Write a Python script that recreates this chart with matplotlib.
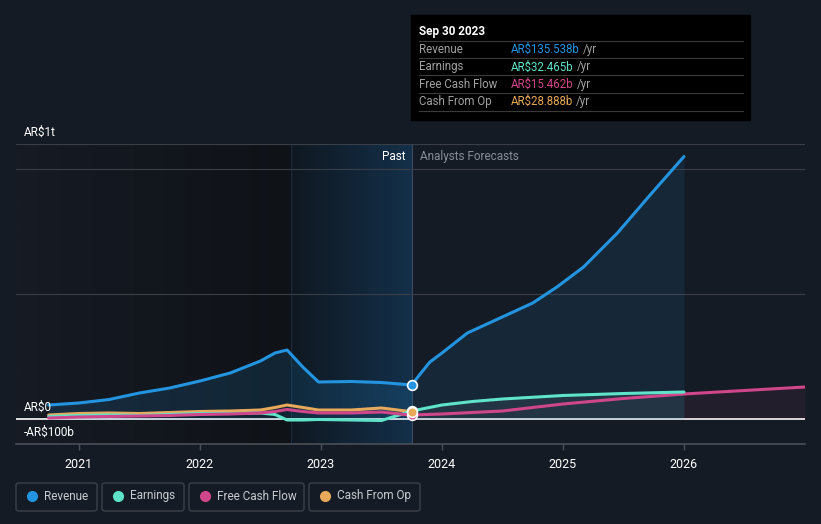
import numpy as np
import matplotlib
matplotlib.use("Agg")
import matplotlib.pyplot as plt
from matplotlib.colors import to_rgb
from matplotlib.patches import FancyBboxPatch, Rectangle

plt.rcParams['font.family'] = ['Roboto', 'DejaVu Sans']

# data (AR$ billions)
past_x = [2020.75, 2021.0, 2021.25, 2021.5, 2021.75, 2022.0, 2022.25, 2022.5, 2022.62,
          2022.72, 2022.85, 2022.98, 2023.25, 2023.5, 2023.75]
rev_past = [56, 64, 78, 104, 124, 152, 184, 232, 264, 276, 208, 148, 150, 146, 136]
earn_past = [10, 14, 16, 14, 18, 22, 22, 24, 18, -4, -4, -2, -4, -6, 32]
fcf_past = [4, 8, 10, 12, 14, 18, 20, 24, 30, 38, 30, 24, 24, 28, 15]
cfo_past = [16, 22, 24, 22, 26, 30, 32, 36, 46, 56, 46, 36, 36, 44, 29]

rev_fc_x = [2023.75, 2023.82, 2023.9, 2024.0, 2024.21, 2024.48, 2024.75, 2024.95,
            2025.17, 2025.45, 2025.72, 2026.0]
rev_fc = [136, 180, 228, 264, 344, 404, 464, 528, 608, 744, 896, 1050]
earn_fc_x = [2023.75, 2024.0, 2024.25, 2024.5, 2025.0, 2025.5, 2026.0]
earn_fc = [32, 56, 70, 80, 94, 102, 108]
fcf_fc_x = [2023.75, 2024.0, 2024.5, 2025.0, 2025.5, 2026.0, 2026.5, 2027.0]
fcf_fc = [16, 20, 32, 60, 82, 100, 114, 128]

years = [2021, 2022, 2023, 2024, 2025, 2026]

c_rev = '#2394df'
c_earn = '#5fe3c9'
c_fcf = '#d0468a'
c_cfo = '#e8a95a'
bg = '#151b25'

W, H = 821, 524
fig = plt.figure(figsize=(8.21, 5.24), dpi=100, facecolor=bg)
ax = fig.add_axes([16 / W, (H - 444) / H, (805 - 16) / W, 300 / H])
ax.set_facecolor(bg)
ax.set_xlim(2020.48, 2027.0)
ax.set_ylim(-100, 1100)

# darker past background
def hgrad(c1, c2, a1, a2, n=256):
    r1, r2 = np.array(to_rgb(c1)), np.array(to_rgb(c2))
    t = np.linspace(0, 1, n)
    img = np.zeros((1, n, 4))
    img[0, :, :3] = r1 + (r2 - r1) * t[:, None]
    img[0, :, 3] = a1 + (a2 - a1) * t
    return img

ax.imshow(hgrad('#161b24', '#0f1217', 1, 1), extent=[2020.48, 2022.75, -100, 1100],
          aspect='auto', zorder=0)
ax.imshow(hgrad('#0f1821', '#14304a', 1, 1), extent=[2022.75, 2023.75, -100, 1100],
          aspect='auto', zorder=0)
ax.axvline(2022.75, color='#1a2c3d', lw=0.8, zorder=1)
ax.axvline(2023.75, color='#3a4d60', lw=0.8, zorder=1)

for g in [500, 1000, 1100]:
    ax.axhline(g, color='#3a3f47', lw=0.8, zorder=1)
ax.axhline(0, color='white', lw=1.2, zorder=2)

# fills
ax.fill_between(past_x, rev_past, 0, color=c_rev, alpha=0.15, lw=0, zorder=2)
ax.fill_between(rev_fc_x, rev_fc, 0, color=c_rev, alpha=0.10, lw=0, zorder=2)
ax.fill_between(earn_fc_x, earn_fc, 0, color='#8899aa', alpha=0.12, lw=0, zorder=2)
fx = [x for x in fcf_fc_x if x >= 2026.0]
fy = fcf_fc[-len(fx):]
ax.fill_between(fx, fy, 0, color=c_fcf, alpha=0.08, lw=0, zorder=2)

kw = dict(lw=2.2, solid_capstyle='round', solid_joinstyle='round', zorder=4)
ax.plot(past_x, cfo_past, color=c_cfo, **kw)
ax.plot(past_x, earn_past, color=c_earn, **kw)
ax.plot(past_x, fcf_past, color=c_fcf, **kw)
ax.plot(past_x, rev_past, color=c_rev, **kw)
ax.plot(fcf_fc_x, fcf_fc, color=c_fcf, **kw)
ax.plot(earn_fc_x, earn_fc, color=c_earn, **kw)
ax.plot(rev_fc_x, rev_fc, color=c_rev, **kw)

for v, c in [(fcf_past[-1], c_fcf), (earn_past[-1], c_earn), (cfo_past[-1], c_cfo), (rev_past[-1], c_rev)]:
    ax.plot([2023.75], [v], 'o', ms=7, mfc=c, mec='white', mew=1.2, zorder=6)

# axes styling
for s in ['top', 'right', 'left']:
    ax.spines[s].set_visible(False)
ax.spines['bottom'].set_color('#4a4f57')
ax.spines['bottom'].set_linewidth(1.2)
ax.set_yticks([])
ax.set_xticks(years)
ax.set_xticklabels([str(y) for y in years], color='white', fontsize=9)
ax.tick_params(axis='x', colors='#4a4f57', length=4, width=1, pad=6, labelcolor='white')

ax.text(2023.70, 1050, 'Past', color='white', fontsize=8.5, ha='right', va='center', zorder=7)
ax.text(2023.82, 1050, 'Analysts Forecasts', color='#8a8f96', fontsize=8.5, ha='left', va='center', zorder=7)

# y labels
fig.text(24 / W, 1 - 132 / H, 'AR$1t', color='white', fontsize=8.5, va='center')
fig.text(24 / W, 1 - 407 / H, 'AR$0', color='white', fontsize=8.5, va='center')
fig.text(24 / W, 1 - 432 / H, '-AR$100b', color='white', fontsize=8.5, va='center')

# tooltip
fig.patches.append(Rectangle((411 / W, 1 - 120 / H), 339 / W, 105 / H,
                             transform=fig.transFigure, color='black', zorder=10))
fig.text(419 / W, 1 - 31 / H, 'Sep 30 2023', color='white', fontsize=8.5,
         fontweight='bold', va='center', zorder=11)
rows = [('Revenue', 'AR$135.538b', c_rev), ('Earnings', 'AR$32.465b', c_earn),
        ('Free Cash Flow', 'AR$15.462b', c_fcf), ('Cash From Op', 'AR$28.888b', c_cfo)]
for yl in [41, 58, 75, 93, 111]:
    fig.add_artist(plt.Line2D([419 / W, 743 / W], [1 - yl / H, 1 - yl / H],
                              transform=fig.transFigure, color='#3a3a3a', lw=0.8, zorder=11))
for i, (lab, val, c) in enumerate(rows):
    yy = 1 - (49.5 + i * 17.4) / H
    fig.text(419 / W, yy, lab, color='#a0a0a0', fontsize=8.3, va='center', zorder=11)
    t = fig.text(511 / W, yy, val, color=c, fontsize=8.3, va='center', zorder=11)
    fig.canvas.draw()
    bb = t.get_window_extent()
    fig.text(bb.x1 / W + 3 / W, yy, '/yr', color='#a0a0a0', fontsize=8.3, va='center', zorder=11)

# legend
items = [('Revenue', c_rev, 16, 97), ('Earnings', c_earn, 102, 184),
         ('Free Cash Flow', c_fcf, 189, 304), ('Cash From Op', c_cfo, 309, 420)]
for lab, c, x0, x1 in items:
    fig.patches.append(FancyBboxPatch((x0 / W, 1 - 511 / H), (x1 - x0) / W, 28 / H,
                                      boxstyle='round,pad=0,rounding_size=0.004',
                                      transform=fig.transFigure, fc='none',
                                      ec='#3b4048', lw=1))
    fig.add_artist(plt.Line2D([(x0 + 16) / W], [1 - 496 / H], marker='o', ms=7,
                              color=c, transform=fig.transFigure))
    fig.text((x0 + 28) / W, 1 - 496 / H, lab, color='#c8ccd0', fontsize=8.5, va='center')

fig.savefig('out.png', dpi=100, facecolor=bg)
